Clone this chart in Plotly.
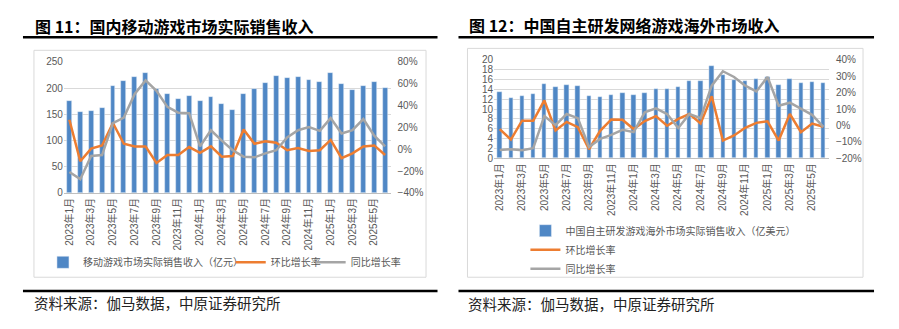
import plotly.graph_objects as go

W, H = 899, 329

months = [f"{y}年{m}月" for y in (2023, 2024, 2025) for m in range(1, 13)][:30]
tick_months = months[::2]

# Left chart: 国内移动游戏市场实际销售收入
dom_rev = [176.5, 155, 156, 162, 204.6, 214, 220.6, 228.5, 198, 188.7,
           179.5, 184.4, 176.5, 182.6, 170, 158.7, 188.7, 198, 210.8, 224,
           219, 221, 215.7, 212.6, 228.5, 207.7, 197, 204, 212, 200]
dom_mom = [27, -11, 0.6, 3.5, 24, 5, 2.6, 2.6, -12.6, -5.3,
           -5.3, 2, -3.2, 2.6, -6.8, -6.2, 18, 5, 7.4, 5.9,
           -0.9, 1.2, -1.5, -0.9, 8.5, -8.2, -3.8, 2.6, 3.5, -5.3]
dom_yoy = [-20.9, -27.4, -6.2, -5.3, 24, 29, 50.6, 63, 53.5, 38.8,
           33.5, 33, 2.6, 17.4, 7.9, -0.9, -6.8, -7.4, -3.8, -0.9,
           10.9, 17.4, 20.3, 16.8, 28.5, 14.4, 17.4, 27.6, 12.4, 2.6]

# Right chart: 中国自主研发网络游戏海外市场收入
ovs_rev = [13.4, 12.3, 12.7, 13.1, 15.2, 14.5, 15.0, 14.8, 12.6, 12.4,
           12.8, 13.3, 12.9, 13.3, 14.1, 14.1, 14.6, 15.7, 15.7, 18.7,
           16.9, 15.9, 15.8, 16.2, 16.5, 14.9, 16.1, 15.4, 15.6, 15.4]
ovs_mom = [-2.2, -8.6, 2.9, 2.9, 15.3, -3.1, 2.2, -1.0, -14.5, -3.3,
           3.7, 3.5, -2.2, 2.7, 5.7, -0.2, 4.0, 7.0, 1.2, 17.8,
           -9.2, -6.1, -1.4, 1.6, 2.5, -9.2, 7.0, -4.1, 1.2, -0.8]
ovs_yoy = [-14.9, -14.5, -15.1, -13.9, 5.7, 0.2, 7.0, 4.5, -13.1, -8.2,
           -5.7, -2.7, -4.1, 8.0, 10.4, 7.0, -1.5, 7.0, 4.5, 24.3,
           33.1, 29.6, 24.3, 20.8, 29.6, 12.0, 13.9, 10.0, 6.5, -0.8]

BLUE = "#4F87C5"
ORANGE = "#ED7D31"
GRAY = "#A5A5A5"
TXT = "#595959"
GRID = "#D9D9D9"
FONT = "Liberation Sans, Noto Sans CJK SC, sans-serif"
CJK = "Noto Sans CJK SC, sans-serif"


def px(x):
    return x / W


def py(y):
    return 1 - y / H


fig = go.Figure()

# Left traces
fig.add_trace(go.Bar(x=months, y=dom_rev, name="移动游戏市场实际销售收入（亿元）",
                     marker_color=BLUE, width=0.45, xaxis="x", yaxis="y", legend="legend"))
fig.add_trace(go.Scatter(x=months, y=[v / 100 for v in dom_mom], name="环比增长率",
                         mode="lines", line=dict(color=ORANGE, width=2.5),
                         xaxis="x", yaxis="y2", legend="legend3"))
fig.add_trace(go.Scatter(x=months, y=[v / 100 for v in dom_yoy], name="同比增长率",
                         mode="lines", line=dict(color=GRAY, width=2.5),
                         xaxis="x", yaxis="y2", legend="legend4"))

# Right traces
fig.add_trace(go.Bar(x=months, y=ovs_rev, name="中国自主研发游戏海外市场实际销售收入（亿美元）",
                     marker_color=BLUE, width=0.4, xaxis="x2", yaxis="y3", legend="legend2"))
fig.add_trace(go.Scatter(x=months, y=[v / 100 for v in ovs_mom], name="环比增长率",
                         mode="lines", line=dict(color=ORANGE, width=2.5),
                         xaxis="x2", yaxis="y4", legend="legend2"))
fig.add_trace(go.Scatter(x=months, y=[v / 100 for v in ovs_yoy], name="同比增长率",
                         mode="lines", line=dict(color=GRAY, width=2.5),
                         xaxis="x2", yaxis="y4", legend="legend2"))

tickfont = dict(family=FONT, size=10, color=TXT)

xcommon = dict(type="category", categoryorder="array", categoryarray=months,
               range=[-0.5, 29.5], tickmode="array", tickvals=tick_months,
               ticktext=tick_months, tickangle=-90, tickfont=tickfont,
               showgrid=False, showline=True, linecolor="#BFBFBF", linewidth=1,
               ticks="", fixedrange=True)

legfont = dict(family=CJK, size=10, color=TXT)


def hleg(xpx):
    return dict(orientation="h", x=px(xpx), y=py(266), xanchor="left", yanchor="middle",
                font=legfont, bgcolor="rgba(0,0,0,0)", itemwidth=30)


fig.update_layout(
    width=W, height=H, margin=dict(l=0, r=0, t=0, b=0),
    paper_bgcolor="white", plot_bgcolor="white",
    bargap=0, showlegend=True,
    xaxis=dict(domain=[px(63), px(390)], anchor="y", **xcommon),
    yaxis=dict(domain=[py(194), py(58)], range=[0, 250], dtick=50, tick0=0,
               showgrid=True, gridcolor=GRID, gridwidth=1, zeroline=False,
               tickfont=tickfont, anchor="x", ticks="", showline=False),
    yaxis2=dict(overlaying="y", side="right", anchor="x", range=[-0.4, 0.8], dtick=0.2,
                tick0=-0.4, tickformat=".0%", showgrid=False, zeroline=False,
                tickfont=tickfont, ticklabelstandoff=6),
    xaxis2=dict(domain=[px(493.7), px(828.8)], anchor="y3", **xcommon),
    yaxis3=dict(domain=[py(158), py(56)], range=[0, 20], dtick=2, tick0=0,
                showgrid=True, gridcolor=GRID, gridwidth=1, zeroline=False,
                tickfont=tickfont, anchor="x2", ticks=""),
    yaxis4=dict(overlaying="y3", side="right", anchor="x2", range=[-0.2, 0.4], dtick=0.1,
                tick0=-0.2, tickformat=".0%", showgrid=False, zeroline=False,
                tickfont=tickfont, ticklabelstandoff=6),
    legend=hleg(42),
    legend3=hleg(230),
    legend4=hleg(310),
    legend2=dict(orientation="v", x=px(525), y=py(228) + 0.03, xanchor="left", yanchor="top",
                 font=legfont, bgcolor="rgba(0,0,0,0)",
                 itemwidth=30, tracegroupgap=0),
)

shapes = []
# chart borders
shapes.append(dict(type="rect", xref="paper", yref="paper", x0=px(33), x1=px(425.5),
                   y0=py(281.5), y1=py(46), line=dict(color=GRID, width=1)))
shapes.append(dict(type="rect", xref="paper", yref="paper", x0=px(467), x1=px(863),
                   y0=py(281.5), y1=py(44), line=dict(color=GRID, width=1)))
# black rules
for x0, x1 in ((22, 437), (458, 874)):
    for yy in (32.5, 295.7):
        shapes.append(dict(type="line", xref="paper", yref="paper", x0=px(x0), x1=px(x1),
                           y0=py(yy), y1=py(yy), line=dict(color="black", width=2.5)))
fig.update_layout(shapes=shapes)

ann = []
ann.append(dict(text="<b>图 11：国内移动游戏市场实际销售收入</b>", x=px(32), y=py(21),
                xanchor="left", yanchor="middle", xref="paper", yref="paper", showarrow=False,
                font=dict(family=CJK, size=16, color="black")))
ann.append(dict(text="<b>图 12：中国自主研发网络游戏海外市场收入</b>", x=px(467), y=py(20),
                xanchor="left", yanchor="middle", xref="paper", yref="paper", showarrow=False,
                font=dict(family=CJK, size=16, color="black")))
for x0, yy in ((31, 307.5), (466, 309)):
    ann.append(dict(text="资料来源：伽马数据，中原证券研究所", x=px(x0), y=py(yy),
                    xanchor="left", yanchor="middle", xref="paper", yref="paper", showarrow=False,
                    font=dict(family=CJK, size=14.5, color="#222222")))
fig.update_layout(annotations=ann)

fig.write_html("out.html")
